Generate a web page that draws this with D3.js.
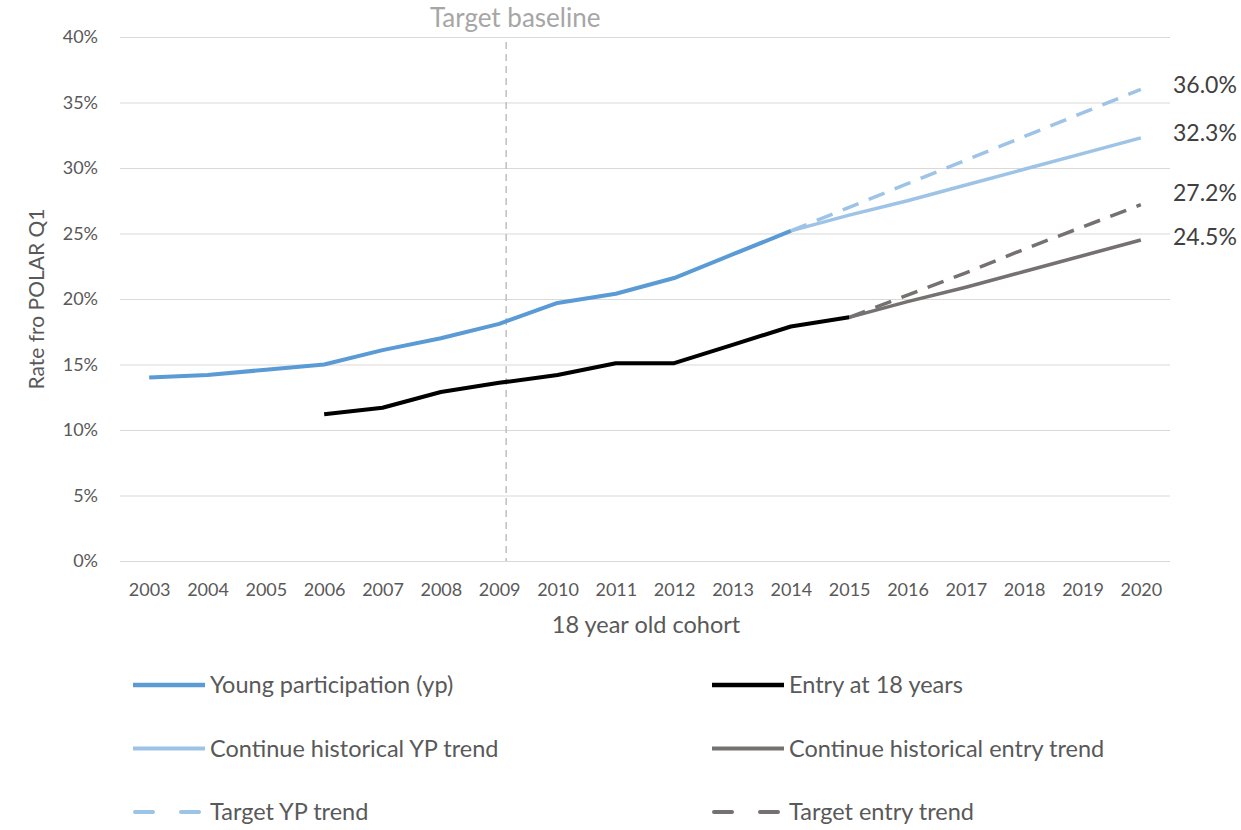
<!DOCTYPE html>
<html>
<head>
<meta charset="utf-8">
<script src="https://cdn.jsdelivr.net/npm/d3@7"></script>
<style>
  html, body { margin: 0; padding: 0; background: #fff; overflow: hidden; }
  svg { display: block; }
  text { font-family: Lato, "Open Sans", sans-serif; }
  .tick text { fill: #595959; font-size: 18px; }
  .tick line { stroke: #d9d9d9; }
</style>
</head>
<body>
<svg width="1241" height="830"></svg>
<script>
  // categories (18 year old cohort)
  const years = ["2003", "2004", "2005", "2006", "2007", "2008", "2009", "2010", "2011",
    "2012", "2013", "2014", "2015", "2016", "2017", "2018", "2019", "2020"];

  // young participation, 2003-2014
  const ypYears = ["2003", "2004", "2005", "2006", "2007", "2008", "2009", "2010", "2011", "2012", "2013", "2014"];
  const ypValues = [14.0, 14.2, 14.6, 15.0, 16.1, 17.0, 18.1, 19.7, 20.4, 21.6, 23.4, 25.2];

  // entry at 18 years, 2006-2015
  const entryYears = ["2006", "2007", "2008", "2009", "2010", "2011", "2012", "2013", "2014", "2015"];
  const entryValues = [11.2, 11.7, 12.9, 13.6, 14.2, 15.1, 15.1, 16.5, 17.9, 18.6];

  // projections
  const ypTrendYears = ["2014", "2015", "2016", "2017", "2018", "2019", "2020"];
  const ypHistTrend = [25.2, 26.4, 27.5, 28.7, 29.9, 31.1, 32.3];
  const ypTargetTrend = [25.2, 27.0, 28.8, 30.6, 32.4, 34.2, 36.0];

  const entryTrendYears = ["2015", "2016", "2017", "2018", "2019", "2020"];
  const entryHistTrend = [18.6, 19.8, 20.9, 22.1, 23.3, 24.5];
  const entryTargetTrend = [18.6, 20.3, 22.0, 23.8, 25.5, 27.2];

  const yTicks = [0, 5, 10, 15, 20, 25, 30, 35, 40];
  const baselineYear = "2009";

  const zip = (ks, vs) => ks.map((k, i) => ({ year: k, value: vs[i] }));

  const series = [
    { name: "Young participation (yp)", data: zip(ypYears, ypValues), color: "#5b9bd5", width: 4, dash: null },
    { name: "Entry at 18 years", data: zip(entryYears, entryValues), color: "#000000", width: 4, dash: null },
    { name: "Continue historical YP trend", data: zip(ypTrendYears, ypHistTrend), color: "#9dc3e6", width: 3.5, dash: null },
    { name: "Continue historical entry trend", data: zip(entryTrendYears, entryHistTrend), color: "#767171", width: 3.5, dash: null },
    { name: "Target YP trend", data: zip(ypTrendYears, ypTargetTrend), color: "#9dc3e6", width: 3.5, dash: "17,11" },
    { name: "Target entry trend", data: zip(entryTrendYears, entryTargetTrend), color: "#767171", width: 3.5, dash: "17,11" },
  ];

  const svg = d3.select("svg");
  const margin = { top: 37, left: 120, right: 71, bottom: 269 };
  const width = +svg.attr("width");
  const height = +svg.attr("height");
  const innerWidth = width - margin.left - margin.right;
  const innerHeight = height - margin.top - margin.bottom;

  const xScale = d3.scalePoint().domain(years).range([0, innerWidth]).padding(0.5);
  const yScale = d3.scaleLinear().domain([0, 40]).range([innerHeight, 0]);

  const g = svg.append("g").attr("transform", `translate(${margin.left},${margin.top})`);

  const yAxisG = g.append("g")
    .call(d3.axisLeft(yScale).tickValues(yTicks).tickSize(-innerWidth).tickPadding(22)
      .tickFormat((d) => d + "%"));
  yAxisG.selectAll(".domain").remove();

  const xAxisG = g.append("g")
    .attr("transform", `translate(0,${innerHeight})`)
    .call(d3.axisBottom(xScale).tickSize(0).tickPadding(22));
  xAxisG.selectAll(".domain").remove();

  // axis titles
  g.append("text")
    .attr("x", innerWidth / 2 + 1)
    .attr("y", innerHeight + 72)
    .attr("text-anchor", "middle")
    .attr("fill", "#595959")
    .attr("font-size", 23.5)
    .text("18 year old cohort");

  g.append("text")
    .attr("transform", "rotate(-90)")
    .attr("x", -(yScale(20)))
    .attr("y", -76)
    .attr("text-anchor", "middle")
    .attr("fill", "#595959")
    .attr("font-size", 21)
    .text("Rate fro POLAR Q1");

  // target baseline marker
  const bx = xScale(baselineYear) + 7;
  g.append("line")
    .attr("x1", bx).attr("x2", bx)
    .attr("y1", 5).attr("y2", innerHeight)
    .attr("stroke", "#bfbfbf")
    .attr("stroke-width", 1.5)
    .attr("stroke-dasharray", "7,5");
  g.append("text")
    .attr("x", bx + 9)
    .attr("y", -10)
    .attr("text-anchor", "middle")
    .attr("fill", "#a6a6a6")
    .attr("font-size", 26)
    .text("Target baseline");

  const line = d3.line()
    .x((d) => xScale(d.year))
    .y((d) => yScale(d.value));

  // draw trends first so history lines sit on top
  const drawOrder = [2, 3, 4, 5, 0, 1];
  drawOrder.forEach((i) => {
    const s = series[i];
    g.append("path")
      .datum(s.data)
      .attr("fill", "none")
      .attr("stroke", s.color)
      .attr("stroke-width", s.width)
      .attr("stroke-linejoin", "round")
      .attr("stroke-dasharray", s.dash)
      .attr("d", line);
  });

  // end value labels
  const endLabels = [series[4], series[2], series[5], series[3]];
  const labelShift = [-4, -5, -12, -3];
  endLabels.forEach((s, i) => {
    const last = s.data[s.data.length - 1];
    g.append("text")
      .attr("x", innerWidth + 3)
      .attr("y", yScale(last.value) + labelShift[i])
      .attr("dy", "0.35em")
      .attr("fill", "#404040")
      .attr("font-size", 23)
      .text(last.value.toFixed(1) + "%");
  });

  // legend, two columns x three rows
  const legendG = svg.append("g").attr("transform", "translate(133,685)");
  series.forEach((s, i) => {
    const col = i % 2;
    const row = Math.floor(i / 2);
    const item = legendG.append("g")
      .attr("transform", `translate(${col * 579},${row * 63.5})`);
    item.append("line")
      .attr("x1", 0).attr("x2", 72)
      .attr("stroke", s.color)
      .attr("stroke-width", s.width + 0.5)
      .attr("stroke-linecap", s.dash ? "round" : "butt")
      .attr("stroke-dasharray", s.dash ? "18,28" : null)
      .attr("transform", s.dash ? "translate(2,0)" : null);
    item.append("text")
      .attr("x", 77)
      .attr("dy", "0.35em")
      .attr("fill", "#595959")
      .attr("font-size", 23.5)
      .text(s.name);
  });
</script>
</body>
</html>
